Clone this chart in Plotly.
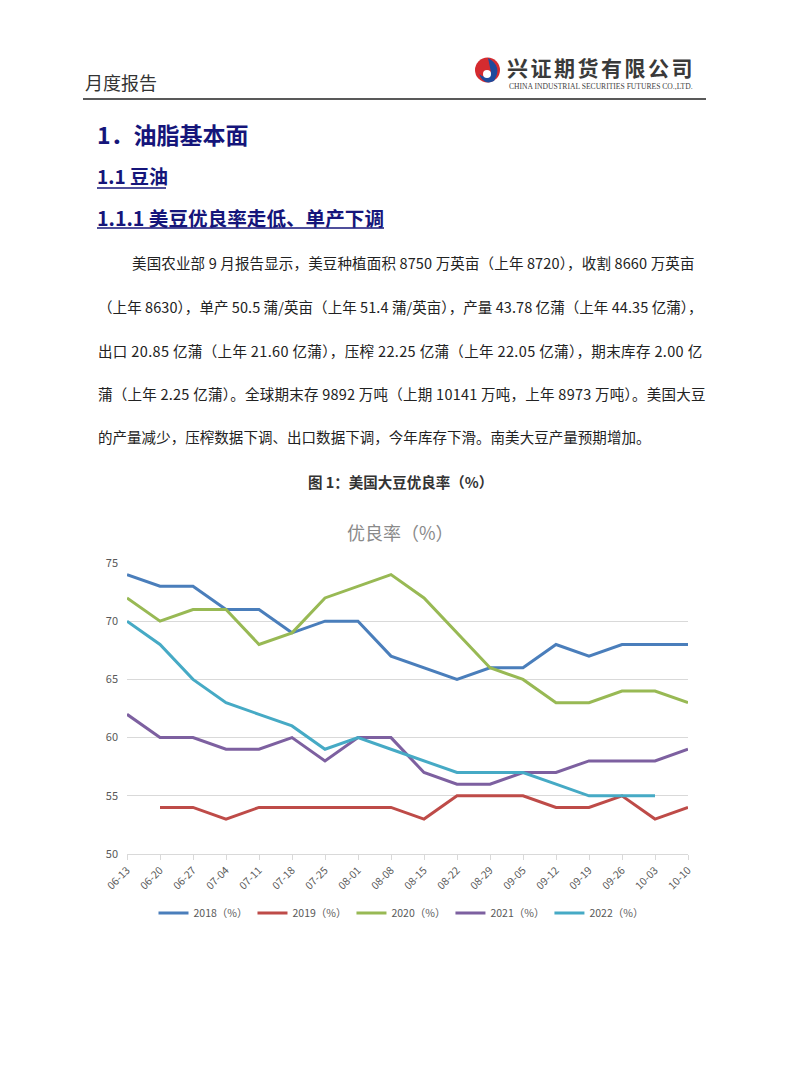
import plotly.graph_objects as go

W, H = 802, 1087
OFF = 8  # page body margin offset

weeks = ["06-13", "06-20", "06-27", "07-04", "07-11", "07-18", "07-25", "08-01", "08-08",
         "08-15", "08-22", "08-29", "09-05", "09-12", "09-19", "09-26", "10-03", "10-10"]
y2018 = [74, 73, 73, 71, 71, 69, 70, 70, 67, 66, 65, 66, 66, 68, 67, 68, 68, 68]
y2019 = [None, 54, 54, 53, 54, 54, 54, 54, 54, 53, 55, 55, 55, 54, 54, 55, 53, 54]
y2020 = [72, 70, 71, 71, 68, 69, 72, 73, 74, 72, 69, 66, 65, 63, 63, 64, 64, 63]
y2021 = [62, 60, 60, 59, 59, 60, 58, 60, 60, 57, 56, 56, 57, 57, 58, 58, 58, 59]
y2022 = [70, 68, 65, 63, 62, 61, 59, 60, 59, 58, 57, 57, 57, 56, 55, 55, 55, None]

series_names = ["2018（%）", "2019（%）", "2020（%）", "2021（%）", "2022（%）"]
series_colors = ["#4a7ebb", "#be4b48", "#98b954", "#7d60a0", "#46aac5"]
series_values = [y2018, y2019, y2020, y2021, y2022]

body_lines = [
    "美国农业部 9 月报告显示，美豆种植面积 8750 万英亩（上年 8720），收割 8660 万英亩",
    "（上年 8630），单产 50.5 蒲/英亩（上年 51.4 蒲/英亩），产量 43.78 亿蒲（上年 44.35 亿蒲），",
    "出口 20.85 亿蒲（上年 21.60 亿蒲），压榨 22.25 亿蒲（上年 22.05 亿蒲），期末库存 2.00 亿",
    "蒲（上年 2.25 亿蒲）。全球期末存 9892 万吨（上期 10141 万吨，上年 8973 万吨）。美国大豆",
    "的产量减少，压榨数据下调、出口数据下调，今年库存下滑。南美大豆产量预期增加。",
]
body_spacing = [0.15, 0.07, 0.36, 0.25, 0.04]


def px(x):
    return (x - OFF) / W


def py(y):
    return 1 - (y - OFF) / H


fig = go.Figure()
for name, color, vals in zip(series_names, series_colors, series_values):
    fig.add_trace(go.Scatter(x=weeks, y=vals, name=name, mode="lines",
                             line=dict(color=color, width=3),
                             connectgaps=False))

CJK = "Noto Sans CJK SC"
NAVY = "#15157a"

annotations = []


def txt(x, y, s, size, color="#222222", bold=False, anchor="left", family=CJK, ls=None):
    if ls:
        s = '<span style="letter-spacing:%.2fpx">%s</span>' % (ls, s)
    annotations.append(dict(
        x=px(x), y=py(y), xref="paper", yref="paper",
        text=("<b>%s</b>" % s) if bold else s,
        showarrow=False, xanchor=anchor, yanchor="middle",
        font=dict(family=family, size=size, color=color)))


# header
txt(83, 82, "月度报告", 18, "#333333")
txt(505, 67, "兴证期货有限公司", 21, "#3a3a3a", bold=True, ls=2.5)
txt(507, 86, "CHINA INDUSTRIAL SECURITIES FUTURES CO.,LTD.", 7.6, "#444444",
    family="Liberation Serif")

# headings
txt(95, 134, "1．油脂基本面", 23, NAVY, bold=True)
txt(95, 176, "1.1 豆油", 19, NAVY, bold=True)
txt(95, 217, "1.1.1 美豆优良率走低、单产下调", 19.6, NAVY, bold=True)

# body
body_y = [263, 306, 350, 393, 436]
for i, (line, yy) in enumerate(zip(body_lines, body_y)):
    txt(130 if i == 0 else 96, yy, line, 14.5, "#222222", ls=body_spacing[i])

# caption
txt(400, 481, "图 1：美国大豆优良率（%）", 14.5, "#333333", bold=True, anchor="center")

# chart title
txt(400, 532, "优良率（%）", 18, "#8a8a8a", anchor="center")

shapes = [
    dict(type="line", xref="paper", yref="paper", x0=px(83), x1=px(706), y0=py(99), y1=py(99),
         line=dict(color="#222222", width=1.5)),
    dict(type="line", xref="paper", yref="paper", x0=px(97), x1=px(166), y0=py(188), y1=py(188),
         line=dict(color=NAVY, width=1.5)),
    dict(type="line", xref="paper", yref="paper", x0=px(97), x1=px(384), y0=py(228), y1=py(228),
         line=dict(color=NAVY, width=1.5)),
    # logo
    dict(type="circle", xref="paper", yref="paper", x0=px(475), x1=px(500), y0=py(82.5), y1=py(57.5),
         fillcolor="#d52b2f", line=dict(width=0)),
    dict(type="path", xref="paper", yref="paper",
         path="M %f,%f Q %f,%f %f,%f Q %f,%f %f,%f Q %f,%f %f,%f Z" % (
             px(488), py(58), px(503), py(66), px(494), py(81),
             px(484), py(86), px(479), py(74),
             px(486), py(80), px(491), py(72)),
         fillcolor="#1f4a9c", line=dict(width=0)),
    dict(type="circle", xref="paper", yref="paper", x0=px(483), x1=px(491), y0=py(78), y1=py(70),
         fillcolor="#ffffff", line=dict(width=0)),
]

fig.update_layout(
    template="none",
    width=W, height=H,
    margin=dict(l=0, r=0, t=0, b=0, pad=0, autoexpand=False),
    paper_bgcolor="white", plot_bgcolor="white",
    showlegend=True,
    legend=dict(orientation="h", x=px(401), xanchor="center", y=py(913), yanchor="middle",
                font=dict(family=CJK, size=10.5, color="#595959"),
                itemwidth=30, tracegroupgap=0, bgcolor="rgba(0,0,0,0)"),
    xaxis=dict(domain=[px(127), px(688)], type="category", range=[0, 17],
               automargin=False,
               showline=True, linecolor="#d9d9d9", linewidth=1,
               ticks="outside", ticklen=5, tickcolor="#d9d9d9",
               tickangle=-45, showgrid=False, zeroline=False,
               tickfont=dict(family=CJK, size=10.5, color="#595959")),
    yaxis=dict(domain=[py(854), py(563)], range=[50, 75], dtick=5,
               automargin=False,
               showgrid=True, gridcolor="#d9d9d9", gridwidth=1,
               zeroline=False, showline=False, ticks="",
               ticklabelstandoff=8,
               tickfont=dict(family=CJK, size=11, color="#595959")),
    annotations=annotations,
    shapes=shapes,
)

fig.write_html("out.html")
